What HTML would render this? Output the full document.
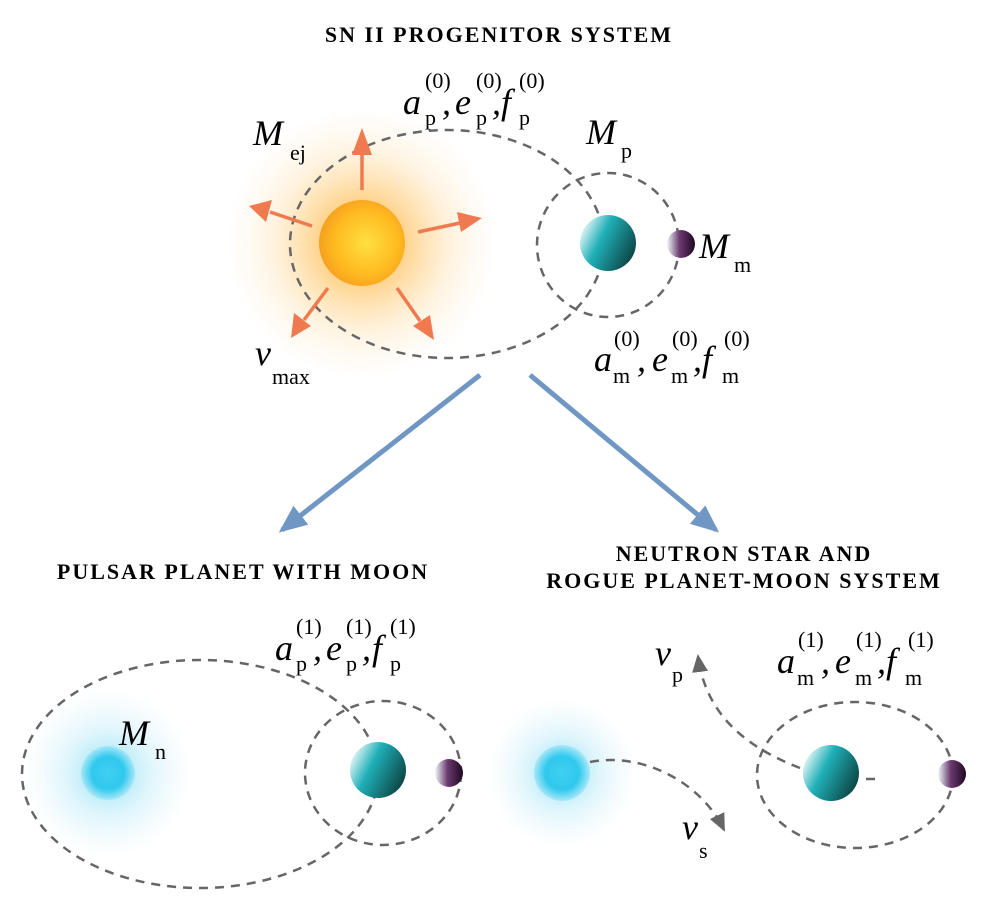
<!DOCTYPE html>
<html><head><meta charset="utf-8"><style>
html,body{margin:0;padding:0;background:#fff}
svg{display:block}
text{font-family:"Liberation Serif",serif;fill:#000}
.t{font-weight:bold;font-size:22px;letter-spacing:2px}
.i{font-style:italic;font-size:36px}
.s{font-size:22px}
.d{fill:none;stroke:#666;stroke-width:2.5;stroke-dasharray:9 7}
</style></head><body>
<svg width="992" height="914" viewBox="0 0 992 914" xmlns="http://www.w3.org/2000/svg">
<defs>
<radialGradient id="glowO"><stop offset="0" stop-color="#ffa820" stop-opacity="0.9"/><stop offset="0.35" stop-color="#ffb030" stop-opacity="0.5"/><stop offset="0.7" stop-color="#ffc870" stop-opacity="0.18"/><stop offset="1" stop-color="#ffd090" stop-opacity="0"/></radialGradient>
<radialGradient id="sun" cx="0.55" cy="0.5" r="0.55"><stop offset="0" stop-color="#ffe040"/><stop offset="0.7" stop-color="#ffb820"/><stop offset="1" stop-color="#f5a020"/></radialGradient>
<radialGradient id="glowB"><stop offset="0" stop-color="#30c8f0" stop-opacity="0.55"/><stop offset="0.5" stop-color="#60d0f0" stop-opacity="0.2"/><stop offset="1" stop-color="#a0e0f8" stop-opacity="0"/></radialGradient>
<radialGradient id="ns"><stop offset="0" stop-color="#40d0f0"/><stop offset="0.6" stop-color="#30c8ee"/><stop offset="1" stop-color="#a8e8f8"/></radialGradient>
<linearGradient id="pl" x1="0" y1="0.3" x2="1" y2="0.8"><stop offset="0" stop-color="#e8f8f8"/><stop offset="0.35" stop-color="#20b0b8"/><stop offset="1" stop-color="#0a3a38"/></linearGradient>
<linearGradient id="mo" x1="0" y1="0" x2="1" y2="0"><stop offset="0" stop-color="#f0f8f8"/><stop offset="0.45" stop-color="#6a3a70"/><stop offset="1" stop-color="#200820"/></linearGradient>
<marker id="ab" markerWidth="28" markerHeight="24" refX="24" refY="12" orient="auto" markerUnits="userSpaceOnUse"><path d="M0,0 L28,12 L0,24 z" fill="#7097c4"/></marker>
<marker id="ag" markerWidth="18" markerHeight="16" refX="16" refY="8" orient="auto" markerUnits="userSpaceOnUse"><path d="M0,0 L18,8 L0,16 z" fill="#666"/></marker>
</defs>

<text class="t" x="499" y="42" text-anchor="middle">SN II PROGENITOR SYSTEM</text>

<circle cx="362" cy="243" r="135" fill="url(#glowO)"/>
<ellipse class="d" cx="447" cy="244" rx="157" ry="114"/>
<circle cx="362" cy="243" r="43" fill="url(#sun)"/>
<g stroke="#f07a50" stroke-width="3.5" fill="none">
<line x1="362" y1="190" x2="362" y2="152"/>
<line x1="312" y1="226" x2="270" y2="212"/>
<line x1="418" y1="232" x2="460" y2="223"/>
<line x1="328" y1="288" x2="304" y2="320"/>
<line x1="397" y1="288" x2="420" y2="321"/>
</g>
<g fill="#f07a50">
<path d="M362,128 L352,155 L372,155 z"/>
<path d="M249,206 L272,200 L266,222 z"/>
<path d="M482,218 L457,212 L461,232 z"/>
<path d="M291,338 L294,313 L311,326 z"/>
<path d="M434,340 L413,326 L430,315 z"/>
</g>
<ellipse class="d" cx="608" cy="245" rx="71" ry="72"/>
<circle cx="608" cy="243" r="28" fill="url(#pl)"/>
<circle cx="681" cy="244" r="14" fill="url(#mo)"/>

<text class="i" x="253" y="145">M</text><text class="s" x="290" y="160">ej</text>
<text class="i" x="403" y="114">a</text><text class="s" x="425" y="125">p</text><text class="s" x="425" y="88">(0)</text><text class="i" x="442" y="114">,</text>
<text class="i" x="455" y="114">e</text><text class="s" x="476" y="125">p</text><text class="s" x="476" y="88">(0)</text><text class="i" x="492" y="114">,</text>
<text class="i" x="501" y="114">f</text><text class="s" x="519" y="125">p</text><text class="s" x="519" y="88">(0)</text>
<text class="i" x="586" y="144">M</text><text class="s" x="621" y="158">p</text>
<text class="i" x="699" y="258">M</text><text class="s" x="734" y="272">m</text>
<text class="i" x="255" y="365">v</text><text class="s" x="272" y="384">max</text>
<text class="i" x="594" y="371">a</text><text class="s" x="613" y="383">m</text><text class="s" x="614" y="346">(0)</text><text class="i" x="637" y="371">,</text>
<text class="i" x="652" y="371">e</text><text class="s" x="671" y="383">m</text><text class="s" x="672" y="346">(0)</text><text class="i" x="693" y="371">,</text>
<text class="i" x="702" y="371">f</text><text class="s" x="722" y="383">m</text><text class="s" x="724" y="346">(0)</text>

<line x1="480" y1="375" x2="282" y2="530" stroke="#7097c4" stroke-width="5" marker-end="url(#ab)"/>
<line x1="530" y1="375" x2="716" y2="530" stroke="#7097c4" stroke-width="5" marker-end="url(#ab)"/>

<text class="t" x="243" y="579" text-anchor="middle">PULSAR PLANET WITH MOON</text>
<text class="t" x="744" y="561" text-anchor="middle">NEUTRON STAR AND</text>
<text class="t" x="744" y="588" text-anchor="middle">ROGUE PLANET-MOON SYSTEM</text>

<circle cx="108" cy="773" r="85" fill="url(#glowB)"/>
<ellipse class="d" cx="200" cy="774" rx="178" ry="114"/>
<circle cx="108" cy="773" r="27" fill="url(#ns)"/>
<ellipse class="d" cx="383" cy="773" rx="78" ry="72"/>
<circle cx="378" cy="770" r="28" fill="url(#pl)"/>
<circle cx="449" cy="773" r="14" fill="url(#mo)"/>
<text class="i" x="119" y="745">M</text><text class="s" x="155" y="759">n</text>
<text class="i" x="275" y="660">a</text><text class="s" x="296" y="671">p</text><text class="s" x="296" y="634">(1)</text><text class="i" x="313" y="660">,</text>
<text class="i" x="326" y="660">e</text><text class="s" x="346" y="671">p</text><text class="s" x="346" y="634">(1)</text><text class="i" x="362" y="660">,</text>
<text class="i" x="372" y="660">f</text><text class="s" x="390" y="671">p</text><text class="s" x="390" y="634">(1)</text>

<circle cx="562" cy="773" r="75" fill="url(#glowB)"/>
<circle cx="562" cy="773" r="28" fill="url(#ns)"/>
<path class="d" d="M590,762 C640,752 700,780 724,830" marker-end="url(#ag)"/>
<text class="i" x="682" y="839">v</text><text class="s" x="699" y="858">s</text>
<ellipse class="d" cx="855" cy="775" rx="98" ry="73"/>
<path class="d" d="M800,768 C740,745 705,710 698,656" marker-end="url(#ag)"/>
<line x1="866" y1="779" x2="875" y2="779" stroke="#666" stroke-width="2.5"/>
<circle cx="831" cy="773" r="28" fill="url(#pl)"/>
<circle cx="952" cy="774" r="14" fill="url(#mo)"/>
<text class="i" x="655" y="665">v</text><text class="s" x="672" y="682">p</text>
<text class="i" x="777" y="673">a</text><text class="s" x="797" y="685">m</text><text class="s" x="798" y="647">(1)</text><text class="i" x="821" y="673">,</text>
<text class="i" x="835" y="673">e</text><text class="s" x="855" y="685">m</text><text class="s" x="856" y="647">(1)</text><text class="i" x="877" y="673">,</text>
<text class="i" x="886" y="673">f</text><text class="s" x="905" y="685">m</text><text class="s" x="908" y="647">(1)</text>
</svg>
</body></html>
